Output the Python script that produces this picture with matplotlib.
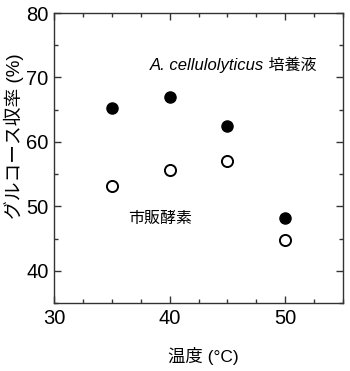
import matplotlib
matplotlib.use("Agg")
import matplotlib.pyplot as plt
from matplotlib.ticker import MultipleLocator

plt.rcParams['font.family'] = ['Liberation Sans', 'Noto Sans CJK JP', 'DejaVu Sans']

temps = [35, 40, 45, 50]
culture_yield = [65.2, 66.9, 62.4, 48.2]
commercial_yield = [53.1, 55.6, 57.0, 44.8]

fig = plt.figure(figsize=(3.5, 3.71), dpi=100)
ax = fig.add_axes([54 / 350, 1 - 303 / 371, 289 / 350, 290 / 371])

ax.plot(temps, culture_yield, 'o', color='black', markersize=8, linestyle='none')
ax.plot(temps, commercial_yield, 'o', markerfacecolor='white', markeredgecolor='black',
        markeredgewidth=1.4, markersize=8, linestyle='none')

ax.set_xlim(30, 55)
ax.set_ylim(35, 80)
ax.xaxis.set_major_locator(MultipleLocator(10))
ax.xaxis.set_minor_locator(MultipleLocator(2.5))
ax.yaxis.set_major_locator(MultipleLocator(10))
ax.yaxis.set_minor_locator(MultipleLocator(5))
ax.tick_params(which='both', direction='in', top=True, right=True, color='#333333',
               labelsize=14.5, width=1)
ax.tick_params(which='major', length=5, pad=4)
ax.tick_params(which='minor', length=3)
for s in ax.spines.values():
    s.set_color('#333333')
    s.set_linewidth(1)

t = ax.text(38.3, 71.9, 'A. cellulolyticus', fontsize=12, style='italic',
            ha='left', va='center')
ax.annotate(' 培養液', xy=(1, 0.5), xycoords=t, fontsize=11.5, ha='left', va='center',
            family=['Liberation Sans', 'Noto Sans CJK JP'])
ax.text(36.4, 48.2, '市販酵素', fontsize=11.5, ha='left', va='center',
        family=['Noto Sans CJK JP'])

xl = ax.set_xlabel('温度 (°C)', fontsize=12.5, family=['Liberation Sans', 'Noto Sans CJK JP'])
yl = ax.set_ylabel('グルコース収率 (%)', fontsize=13.5, family=['Liberation Sans', 'Noto Sans CJK JP'])
xl.set_va('center')
yl.set_va('center')
ax.xaxis.set_label_coords(0.515, -0.183)
ax.yaxis.set_label_coords(-0.138, 0.576)

fig.savefig('out.png', dpi=100)
